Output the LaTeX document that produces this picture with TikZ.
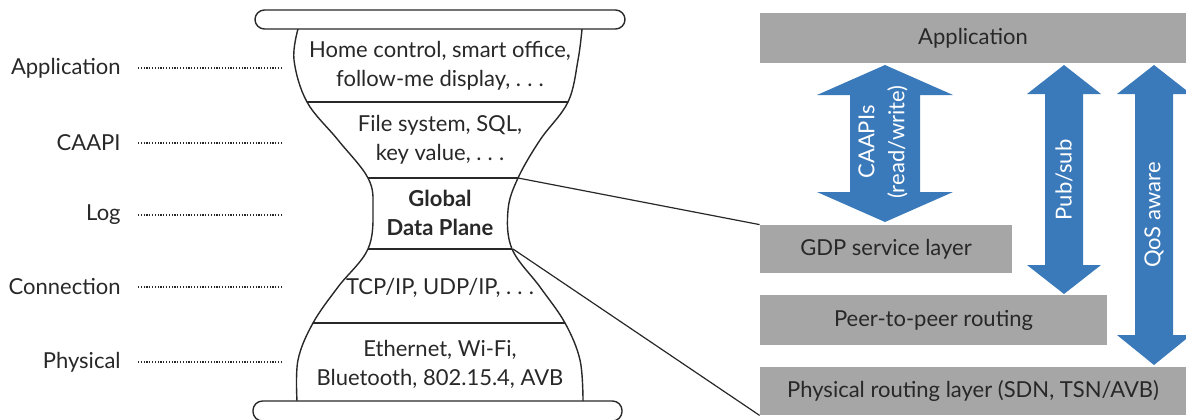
\documentclass[tikz,border=0pt]{standalone}
\usepackage{fontspec}
\setmainfont{Lato}
\definecolor{layergray}{RGB}{166,166,166}
\definecolor{arrowblue}{RGB}{59,122,186}
\definecolor{inkgray}{RGB}{40,40,40}
\newcommand{\hgdots}{.\kern0.28em.\kern0.28em.}

\tikzset{
  lbl/.style={anchor=east, inner sep=0pt, text=inkgray},
  dotline/.style={inkgray, line width=0.65pt, dash pattern=on 0.6pt off 0.8pt},
  hgline/.style={inkgray, line width=0.7pt},
  hgtxt/.style={align=center, text=inkgray, inner sep=0pt},
  layer/.style={fill=layergray, text=inkgray, inner sep=0pt},
  arrowtxt/.style={text=white, align=center, inner sep=0pt, rotate=90},
}

\begin{document}
\begin{tikzpicture}[x=0.5pt, y=-0.5pt, font=\fontsize{11}{14.5}\selectfont]
	\useasboundingbox (0,0) rectangle (1186,419);
	% layer names on the left
	\foreach \y/\name/\txt in {68/app/Application, 143/api/CAAPI, 215/log/Log, 287/conn/Connection, 362/phy/Physical} {
		\node[lbl] (lbl\name) at (121,\y) {\txt};
		\coordinate (dot\name) at (283,\y);
		\draw[dotline] ([xshift=8.5pt]lbl\name.east) -- (dot\name);
	}
	% hourglass
	\draw[hgline, fill=white, rounded corners=4.75pt] (255,10) rectangle (625,29);
	\draw[hgline, fill=white, rounded corners=4.75pt] (253,401) rectangle (622,421);
	\draw[hgline] plot[smooth, tension=0.6] coordinates {(298,29) (294,60) (307,102) (338,140) (368,178) (373,208) (368,249) (338,287) (313,323) (298,360) (297,401)};
	\draw[hgline] plot[smooth, tension=0.6] coordinates {(582,29) (578,60) (568,102) (540,140) (518,178) (508,210) (512,249) (540,287) (565,323) (580,360) (583,401)};
	\draw[hgline] (307,102) -- (568,102);
	\draw[hgline] (368,178) -- (518,178);
	\draw[hgline] (368,249) -- (512,249);
	\draw[hgline] (313,323) -- (565,323);
	\node[hgtxt] (hgApp) at (440,66) {Home control, smart office,\\follow-me display, \hgdots};
	\node[hgtxt] (hgApi) at (440,140) {File system, SQL,\\key value, \hgdots};
	\node[hgtxt, font=\fontsize{11}{14.5}\selectfont\bfseries] (hgLog) at (440,213) {Global\\Data Plane};
	\node[hgtxt] (hgConn) at (440,288) {TCP/IP, UDP/IP, \hgdots};
	\node[hgtxt] (hgPhy) at (440,364) {Ethernet, Wi-Fi,\\Bluetooth, 802.15.4, AVB};
	% layers on the right
	\node[layer, minimum width=213pt, minimum height=25pt] (appLayer) at (973,38) {Application};
	\node[layer, minimum width=126pt, minimum height=24pt] (gdpLayer) at (886,249) {GDP service layer};
	\node[layer, minimum width=173.5pt, minimum height=25pt] (p2pLayer) at (933.5,320) {Peer-to-peer routing};
	\node[layer, minimum width=213pt, minimum height=24pt] (phyLayer) at (973,391) {Physical routing layer (SDN, TSN/AVB)};
	% zoom lines
	\coordinate (logTop) at (518,178);
	\coordinate (logBot) at (513,249);
	\draw[hgline, line width=0.6pt] (logTop) -- (gdpLayer.north west);
	\draw[hgline, line width=0.6pt] (logBot) -- (phyLayer.south west);
	% block arrows
	\fill[arrowblue] (885,65) -- (953,95) -- (920,95) -- (920,192) -- (953,192) -- (885,222) -- (817,192) -- (850,192) -- (850,95) -- (817,95) -- cycle;
	\fill[arrowblue] (1064,65) -- (1101,94) -- (1083,94) -- (1083,265) -- (1101,265) -- (1064,294) -- (1027,265) -- (1045,265) -- (1045,94) -- (1027,94) -- cycle;
	\fill[arrowblue] (1154,65) -- (1191,94) -- (1173,94) -- (1173,335) -- (1191,335) -- (1154,365) -- (1117,335) -- (1135,335) -- (1135,94) -- (1117,94) -- cycle;
	\node[arrowtxt, font=\fontsize{11}{15}\selectfont] (caapiTxt) at (883,142) {CAAPIs\\(read/write)};
	\node[arrowtxt] (pubTxt) at (1064,180) {Pub/sub};
	\node[arrowtxt] (qosTxt) at (1154,215) {QoS aware};
\end{tikzpicture}
\end{document}
